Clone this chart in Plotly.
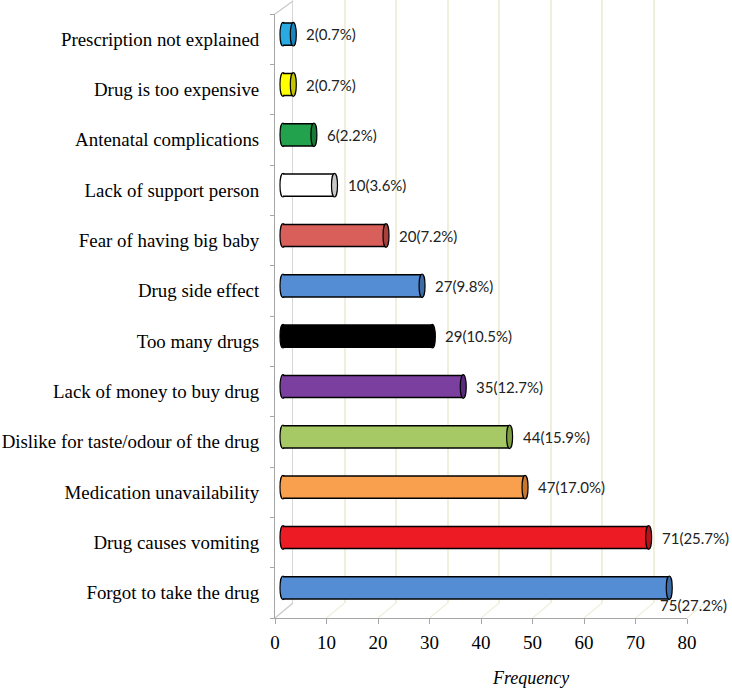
import plotly.graph_objects as go

# ---------------- data (bottom to top) ----------------
categories = [
    "Forgot to take the drug",
    "Drug causes vomiting",
    "Medication unavailability",
    "Dislike for taste/odour of the drug",
    "Lack of money to buy drug",
    "Too many drugs",
    "Drug side effect",
    "Fear of having big baby",
    "Lack of support person",
    "Antenatal complications",
    "Drug is too expensive",
    "Prescription not explained",
]
frequency = [75, 71, 47, 44, 35, 29, 27, 20, 10, 6, 2, 2]
percent = [27.2, 25.7, 17.0, 15.9, 12.7, 10.5, 9.8, 7.2, 3.6, 2.2, 0.7, 0.7]
x_ticks = [0, 10, 20, 30, 40, 50, 60, 70, 80]

# ---------------- styles ----------------
fill_colors = ["#548dd4", "#ed1c24", "#f9a04f", "#a6c965", "#7b3fa0", "#000000",
               "#548dd4", "#d95f5b", "#ffffff", "#23a24d", "#ffff00", "#2aaae2"]
cap_colors = ["#3d6ba6", "#b3141b", "#c8772f", "#7e9d42", "#5b2a7e", "#000000",
              "#3d6ba6", "#a8403d", "#c8c8c8", "#187a38", "#c4c400", "#1b86bd"]

W, H = 732, 688
FX0, FX1 = 275, 687       # front x axis pixel span (0..80)
FY0, FY1 = 14, 618        # front plot top / bottom
DX, DY = 18, -15          # 3D depth offset
BX, BY = 8, -5            # bar offset (mid depth)
XMAX = 80
XPAD = 2                  # room left of 0 on bar axis for the rounded cylinder end
px_per_unit = (FX1 - FX0) / XMAX
serif = "Liberation Serif, Times New Roman, serif"
sans = "Lato, Calibri, sans-serif"
axis_grey = "#a6a6a6"


def dom_x(a, b):
    return [a / W, b / W]


def dom_y(top, bottom):
    return [max(0.0, 1 - bottom / H), min(1.0, 1 - top / H)]


fig = go.Figure()

# back wall subplot (x/y) – drawn first so its gridlines stay behind bars
fig.add_trace(go.Scatter(x=[0], y=[0], mode="markers", marker=dict(opacity=0),
                         hoverinfo="skip", showlegend=False, xaxis="x", yaxis="y"))
# front axis subplot (x2/y2)
fig.add_trace(go.Scatter(x=[0] * len(categories), y=categories, mode="markers",
                         marker=dict(opacity=0), hoverinfo="skip", showlegend=False,
                         xaxis="x2", yaxis="y2"))
# bars (x3/y3): black outline bar behind, coloured body on top
fig.add_trace(go.Bar(x=frequency, y=categories, orientation="h", width=0.47,
                     marker=dict(color="#000000", line=dict(width=0)),
                     xaxis="x3", yaxis="y3", showlegend=False, hoverinfo="skip"))
fig.add_trace(go.Bar(x=frequency, y=categories, orientation="h", width=0.41,
                     marker=dict(color=fill_colors, line=dict(width=0)),
                     xaxis="x3", yaxis="y3", showlegend=False))

shapes = []
a = 3.0 / px_per_unit      # half width of cylinder caps (data units)
h = 0.235                   # half height of cylinder in category units
for i, v in enumerate(frequency):
    shapes.append(dict(type="circle", xref="x3", yref="y3", x0=-a, x1=a,
                       y0=i - h, y1=i + h, fillcolor=fill_colors[i],
                       line=dict(color="black", width=1.2), layer="below"))
    shapes.append(dict(type="circle", xref="x3", yref="y3", x0=v - a, x1=v + a,
                       y0=i - h, y1=i + h, fillcolor=cap_colors[i],
                       line=dict(color="black", width=1.2), layer="above"))

# floor / side wall diagonals
for t in x_ticks:
    x0 = FX0 + t * px_per_unit
    shapes.append(dict(type="line", xref="paper", yref="paper",
                       x0=x0 / W, y0=1 - FY1 / H, x1=(x0 + DX) / W, y1=1 - (FY1 + DY) / H,
                       line=dict(color="#c8c8c8" if t == 0 else "#efefdc", width=1.2),
                       layer="below"))
shapes.append(dict(type="line", xref="paper", yref="paper",
                   x0=FX0 / W, y0=1 - FY0 / H, x1=(FX0 + DX) / W, y1=1 - (FY0 + DY + 2) / H,
                   line=dict(color="#c8c8c8", width=1.2), layer="below"))

annotations = []
vmax = max(frequency)
for i, (c, v, p) in enumerate(zip(categories, frequency, percent)):
    txt = f"{v}({p:.1f}%)"
    if v == vmax:
        annotations.append(dict(x=v, y=c, xref="x3", yref="y3", text=txt, showarrow=False,
                                xanchor="left", yanchor="middle", xshift=-11, yshift=-17,
                                font=dict(family=sans, size=15, color="#222222")))
    else:
        annotations.append(dict(x=v, y=c, xref="x3", yref="y3", text=txt, showarrow=False,
                                xanchor="left", yanchor="middle", xshift=11,
                                font=dict(family=sans, size=15, color="#222222")))
annotations.append(dict(x=530 / W, y=1 - 678 / H, xref="paper", yref="paper",
                        xanchor="center", yanchor="middle",
                        text="<i>Frequency</i>", showarrow=False,
                        font=dict(family=serif, size=18, color="black")))

fig.update_layout(
    width=W, height=H,
    margin=dict(l=0, r=0, t=0, b=0, pad=0),
    paper_bgcolor="white",
    plot_bgcolor="rgba(0,0,0,0)",
    barmode="overlay",
    showlegend=False,
    shapes=shapes,
    annotations=annotations,
    # back wall
    xaxis=dict(domain=dom_x(FX0 + DX, FX1 + DX), range=[0, XMAX], anchor="y",
               tick0=0, dtick=10, showgrid=True, gridcolor="#efefdc", gridwidth=1.5,
               showticklabels=False, ticks="", showline=False, zeroline=False,
               automargin=False, fixedrange=True),
    yaxis=dict(domain=dom_y(FY0 + DY - 1, FY1 + DY), anchor="x", range=[0, 1],
               showgrid=False, showticklabels=False, ticks="", showline=True,
               linecolor="#d6d6d6", linewidth=1, zeroline=False,
               automargin=False, fixedrange=True),
    # front axes
    xaxis2=dict(domain=dom_x(FX0, FX1), range=[0, XMAX], anchor="y2",
                tickmode="array", tickvals=x_ticks, showgrid=False, zeroline=False,
                showline=True, linecolor=axis_grey, linewidth=1,
                ticks="outside", ticklen=5, tickcolor=axis_grey,
                tickfont=dict(family=serif, size=19, color="black"),
                ticklabelstandoff=2, automargin=False, fixedrange=True),
    yaxis2=dict(domain=dom_y(FY0, FY1), anchor="x2", type="category",
                categoryorder="array", categoryarray=categories,
                range=[-0.5, len(categories) - 0.5],
                showgrid=False, zeroline=False, showline=True, linecolor=axis_grey, linewidth=1,
                ticks="outside", ticklen=4, tickcolor=axis_grey, tickson="boundaries",
                tickfont=dict(family=serif, size=18.9, color="black"),
                ticklabelstandoff=11, automargin=False, fixedrange=True),
    # bars
    xaxis3=dict(domain=dom_x(FX0 + BX - XPAD * px_per_unit, FX1 + BX), range=[-XPAD, XMAX],
                anchor="y3", visible=False, automargin=False, fixedrange=True),
    yaxis3=dict(domain=dom_y(FY0 + BY, FY1 + BY), anchor="x3", type="category",
                categoryorder="array", categoryarray=categories,
                range=[-0.5, len(categories) - 0.5], visible=False,
                automargin=False, fixedrange=True),
)

fig.write_html("out.html", config={"displayModeBar": False},
               post_script="document.body.style.margin='0px';")
